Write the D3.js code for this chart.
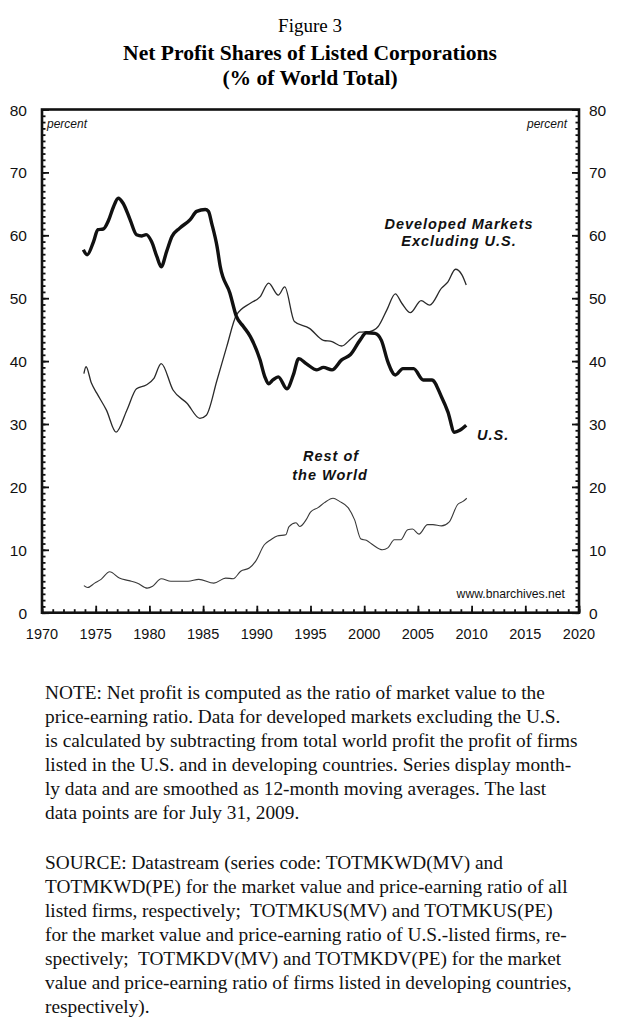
<!DOCTYPE html>
<html><head><meta charset="utf-8">
<script src="https://cdn.jsdelivr.net/npm/d3@7"></script>
<style>body{margin:0;background:#fff}svg{display:block}</style>
</head><body><svg id="c" width="620" height="1024"></svg>
<script>
// ---- data ----
const usSeries = [[1973.85,57.7],[1974.2,56.9],[1974.8,59.0],[1975.2,60.9],[1975.7,61.0],[1976.2,62.4],[1976.65,64.5],[1977.1,65.9],[1977.55,65.1],[1978.2,62.5],[1978.8,60.1],[1979.3,59.9],[1979.7,60.1],[1980.2,59.0],[1980.7,56.6],[1981.1,55.0],[1981.6,57.4],[1982.1,59.8],[1982.8,61.1],[1983.8,62.5],[1984.4,63.8],[1985.2,64.1],[1985.5,63.8],[1985.8,61.9],[1986.3,58.2],[1986.6,55.0],[1987.5,50.8],[1988.1,47.1],[1988.75,45.5],[1989.4,43.9],[1990.3,40.2],[1990.75,37.5],[1991.1,36.4],[1991.5,37.0],[1992.0,37.5],[1992.8,35.6],[1993.4,37.8],[1993.9,40.4],[1994.6,39.6],[1995.6,38.6],[1996.2,39.0],[1997.0,38.6],[1997.9,40.2],[1998.7,41.0],[1999.6,43.3],[2000.2,44.5],[2001.0,44.4],[2001.6,43.3],[2002.2,39.9],[2002.9,37.8],[2003.6,38.8],[2004.6,38.8],[2005.5,37.0],[2006.3,37.0],[2007.2,34.3],[2007.8,31.9],[2008.4,28.7],[2008.9,29.0],[2009.5,29.8]];
const developedSeries = [[1973.9,38.0],[1974.1,39.1],[1974.6,36.5],[1975.1,34.9],[1976.0,32.2],[1976.9,28.7],[1977.9,32.2],[1978.8,35.6],[1979.7,36.2],[1980.4,37.2],[1981.1,39.6],[1982.2,35.4],[1983.5,33.3],[1984.7,30.9],[1985.3,31.4],[1986.3,37.0],[1987.2,42.3],[1988.1,47.3],[1989.4,49.2],[1990.3,50.2],[1991.1,52.4],[1992.0,50.5],[1992.6,51.8],[1993.5,46.3],[1994.9,45.2],[1996.2,43.3],[1997.0,43.1],[1997.9,42.4],[1998.8,43.6],[1999.6,44.6],[2000.5,44.7],[2001.3,45.5],[2002.1,48.1],[2002.9,50.7],[2003.5,49.2],[2004.3,47.7],[2005.3,49.6],[2006.1,48.9],[2007.2,51.6],[2007.8,52.6],[2008.5,54.6],[2009.1,53.7],[2009.5,52.1]];
const restSeries = [[1973.9,4.3],[1974.25,4.0],[1974.9,4.7],[1975.5,5.3],[1976.3,6.5],[1977.2,5.5],[1978.1,5.1],[1978.9,4.7],[1979.8,3.9],[1980.3,4.2],[1981.1,5.4],[1982.0,5.0],[1983.6,5.0],[1984.6,5.3],[1986.0,4.7],[1987.1,5.5],[1987.8,5.4],[1988.5,6.6],[1989.3,7.1],[1989.9,8.2],[1990.7,10.8],[1991.3,11.6],[1991.9,12.2],[1992.7,12.4],[1993.0,13.7],[1993.65,14.3],[1994.0,13.7],[1994.6,14.8],[1995.0,16.0],[1995.7,16.7],[1996.3,17.5],[1997.1,18.2],[1997.7,17.7],[1998.5,16.7],[1999.1,14.8],[1999.7,11.7],[2000.2,11.5],[2000.8,10.8],[2001.7,10.0],[2002.2,10.3],[2002.8,11.6],[2003.4,11.6],[2004.05,13.2],[2004.5,13.3],[2005.1,12.5],[2005.9,14.0],[2006.4,14.0],[2007.2,13.8],[2007.9,14.4],[2008.7,17.2],[2009.2,17.7],[2009.55,18.2]];
const xTickLabels = [1970,1975,1980,1985,1990,1995,2000,2005,2010,2015,2020];
const yTickLabels = [0,10,20,30,40,50,60,70,80];
const titleLines = ["Figure 3","Net Profit Shares of Listed Corporations","(% of World Total)"];
const noteLines = [
 "NOTE: Net profit is computed as the ratio of market value to the",
 "price-earning ratio. Data for developed markets excluding the U.S.",
 "is calculated by subtracting from total world profit the profit of firms",
 "listed in the U.S. and in developing countries. Series display month-",
 "ly data and are smoothed as 12-month moving averages. The last",
 "data points are for July 31, 2009."];
const sourceLines = [
 "SOURCE: Datastream (series code: TOTMKWD(MV) and",
 "TOTMKWD(PE) for the market value and price-earning ratio of all",
 "listed firms, respectively;\u00a0 TOTMKUS(MV) and TOTMKUS(PE)",
 "for the market value and price-earning ratio of U.S.-listed firms, re-",
 "spectively;\u00a0 TOTMKDV(MV) and TOTMKDV(PE) for the market",
 "value and price-earning ratio of firms listed in developing countries,",
 "respectively)."];

// ---- layout ----
const svg = d3.select("#c");
const L = 42, R = 579, T = 109.5, B = 612.7;
const x = d3.scaleLinear().domain([1970,2020]).range([L,R]);
const y = d3.scaleLinear().domain([0,80]).range([B,T]);
const sans = "'Liberation Sans', Arial, sans-serif";
const serif = "'Liberation Serif', 'Times New Roman', serif";

// titles
svg.append("text").attr("x",310).attr("y",32).attr("text-anchor","middle")
  .style("font-family",serif).style("font-size","19px").text(titleLines[0]);
const t2 = svg.append("text").attr("x",310).attr("y",60).attr("text-anchor","middle")
  .style("font-family",serif).style("font-size","19px").style("font-weight","bold").text(titleLines[1]);
const tfs = 19*374/t2.node().getComputedTextLength();
t2.style("font-size",tfs+"px");
svg.append("text").attr("x",310).attr("y",85).attr("text-anchor","middle")
  .style("font-family",serif).style("font-size",tfs+"px").style("font-weight","bold").text(titleLines[2]);

// axes with inward ticks
const g = svg.append("g");
function minor(dom, step){ const a=[]; for(let v=dom[0]; v<=dom[1]+1e-9; v+=step) a.push(v); return a; }
g.append("g").attr("transform",`translate(0,${B})`)
  .call(d3.axisBottom(x).tickValues(minor([1970,2020],1)).tickSize(-3.5).tickFormat(""))
  .call(s=>s.select(".domain").remove());
g.append("g").attr("transform",`translate(0,${B})`)
  .call(d3.axisBottom(x).tickValues(xTickLabels).tickSize(-7).tickFormat(""))
  .call(s=>s.select(".domain").remove());
g.append("g").attr("transform",`translate(${L},0)`)
  .call(d3.axisLeft(y).tickValues(minor([0,80],1)).tickSize(-3.5).tickFormat(""))
  .call(s=>s.select(".domain").remove());
g.append("g").attr("transform",`translate(${L},0)`)
  .call(d3.axisLeft(y).tickValues(yTickLabels).tickSize(-7).tickFormat(""))
  .call(s=>s.select(".domain").remove());
g.append("g").attr("transform",`translate(${R},0)`)
  .call(d3.axisRight(y).tickValues(minor([0,80],1)).tickSize(-3.5).tickFormat(""))
  .call(s=>s.select(".domain").remove());
g.append("g").attr("transform",`translate(${R},0)`)
  .call(d3.axisRight(y).tickValues(yTickLabels).tickSize(-7).tickFormat(""))
  .call(s=>s.select(".domain").remove());
g.selectAll(".tick line").attr("stroke","#111").attr("stroke-width",1.8);

// frame
svg.append("rect").attr("x",L).attr("y",T).attr("width",R-L).attr("height",B-T)
  .attr("fill","none").attr("stroke","#111").attr("stroke-width",2.6);

// tick labels
svg.selectAll(".xl").data(xTickLabels).join("text").attr("class","xl")
  .attr("x",d=>x(d)).attr("y",B+26).attr("text-anchor","middle")
  .style("font-family",sans).style("font-size","14.5px").style("fill","#111").text(d=>d);
svg.selectAll(".yl").data(yTickLabels).join("text").attr("class","yl")
  .attr("x",27).attr("y",d=>y(d)+6).attr("text-anchor","end")
  .style("font-family",sans).style("font-size","15.5px").style("fill","#111").text(d=>d);
svg.selectAll(".yr").data(yTickLabels).join("text").attr("class","yr")
  .attr("x",589).attr("y",d=>y(d)+6).attr("text-anchor","start")
  .style("font-family",sans).style("font-size","15.5px").style("fill","#111").text(d=>d);

// lines
const line = d3.line().x(d=>x(d[0])).y(d=>y(d[1])).curve(d3.curveMonotoneX);
svg.append("path").datum(restSeries).attr("d",line).attr("fill","none").attr("stroke","#3a3a3a").attr("stroke-width",1.1);
svg.append("path").datum(developedSeries).attr("d",line).attr("fill","none").attr("stroke","#2a2a2a").attr("stroke-width",1.3);
svg.append("path").datum(usSeries).attr("d",line).attr("fill","none").attr("stroke","#111").attr("stroke-width",3.4).attr("stroke-linejoin","round");

// in-plot labels
const lab = (txt,xx,yy,anchor,size,style,weight)=>svg.append("text").attr("x",xx).attr("y",yy).attr("text-anchor",anchor)
  .style("font-family",sans).style("font-size",size).style("font-style",style).style("font-weight",weight).style("fill","#111").text(txt);
lab("percent",47,128,"start","12px","italic","normal");
lab("percent",567,128,"end","12px","italic","normal");
lab("Developed Markets",459,229,"middle","14.5px","italic","bold").style("letter-spacing","1px");
lab("Excluding U.S.",459,246,"middle","14.5px","italic","bold").style("letter-spacing","1px");
lab("U.S.",477,440,"start","14.5px","italic","bold").style("letter-spacing","1px");
lab("Rest of",331,461,"middle","14.5px","italic","bold").style("letter-spacing","1px");
lab("the World",330,480,"middle","14.5px","italic","bold").style("letter-spacing","1px");
lab("www.bnarchives.net",565,598,"end","12.2px","normal","normal");

// notes
const probe = svg.append("text").style("font-family",serif).style("font-size","17px").text(noteLines[2]);
const nfs = 17*533/probe.node().getComputedTextLength();
probe.remove();
svg.selectAll(".note").data(noteLines).join("text").attr("class","note")
  .attr("x",45).attr("y",(d,i)=>699+i*24).style("font-family",serif).style("font-size",nfs+"px").style("fill","#111").text(d=>d);
svg.selectAll(".src").data(sourceLines).join("text").attr("class","src")
  .attr("x",45).attr("y",(d,i)=>869+i*24).style("font-family",serif).style("font-size",nfs+"px").style("fill","#111").text(d=>d);
</script></body></html>
